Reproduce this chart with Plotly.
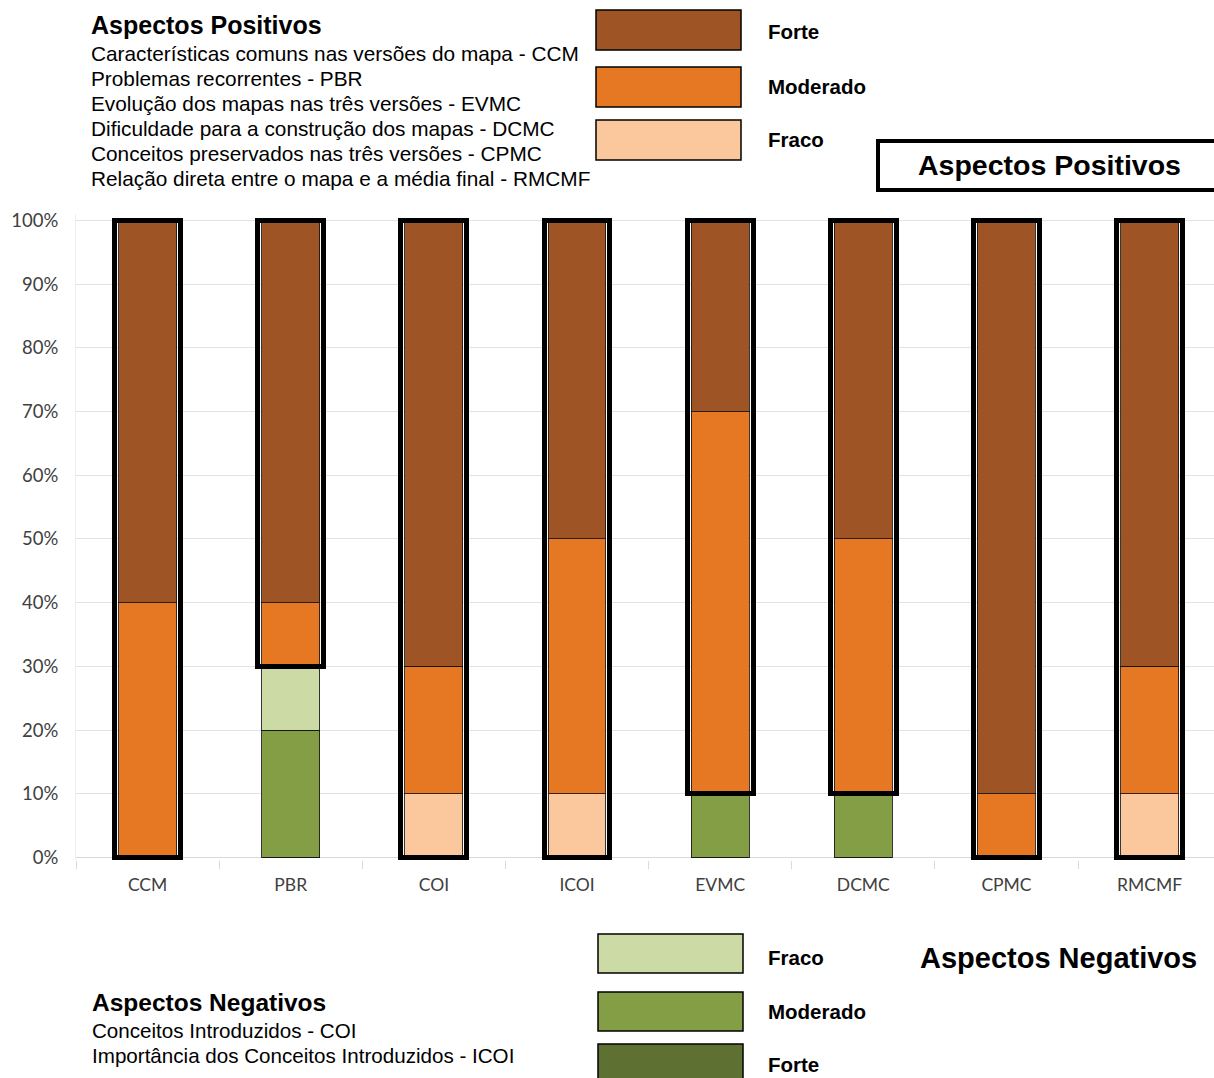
import plotly.graph_objects as go

categories = ["CCM", "PBR", "COI", "ICOI", "EVMC", "DCMC", "CPMC", "RMCMF"]
neg_forte = [0, 0, 0, 0, 0, 0, 0, 0]
neg_moderado = [0, 20, 0, 0, 10, 10, 0, 0]
neg_fraco = [0, 10, 0, 0, 0, 0, 0, 0]
pos_fraco = [0, 0, 10, 10, 0, 0, 0, 10]
pos_moderado = [40, 10, 20, 40, 60, 40, 10, 20]
pos_forte = [60, 60, 70, 50, 30, 50, 90, 70]
y_ticks = [0, 10, 20, 30, 40, 50, 60, 70, 80, 90, 100]
y_tick_labels = [f"{v}%" for v in y_ticks]

C_POS_FORTE = "#9E5424"
C_POS_MOD = "#E67823"
C_POS_FRACO = "#FAC89C"
C_NEG_FRACO = "#CCDBA6"
C_NEG_MOD = "#849E46"
C_NEG_FORTE = "#5E7032"

neg_total = [a + b + c for a, b, c in zip(neg_forte, neg_moderado, neg_fraco)]
pos_total = [a + b + c for a, b, c in zip(pos_fraco, pos_moderado, pos_forte)]

W, H = 1214, 1078
ML, MR, MT, MB = 76, 0, 214, 218
PW = W - ML - MR
PH = H - MT - MB


def px(x):
    return (x - ML) / PW


def py(y):
    return (H - MB - y) / PH


fig = go.Figure()
series = [
    ("Neg Forte", neg_forte, C_NEG_FORTE),
    ("Neg Moderado", neg_moderado, C_NEG_MOD),
    ("Neg Fraco", neg_fraco, C_NEG_FRACO),
    ("Pos Fraco", pos_fraco, C_POS_FRACO),
    ("Pos Moderado", pos_moderado, C_POS_MOD),
    ("Pos Forte", pos_forte, C_POS_FORTE),
]
for name, vals, col in series:
    fig.add_trace(go.Bar(
        x=categories, y=vals, name=name, width=0.405,
        marker=dict(color=col, line=dict(color="rgba(20,20,20,0.85)", width=1)),
        showlegend=False,
    ))

# outline around positive aspects
fig.add_trace(go.Bar(
    x=categories, y=pos_total, base=neg_total, width=0.46,
    xaxis="x2",
    marker=dict(color="rgba(0,0,0,0)", line=dict(color="black", width=5)),
    showlegend=False,
))

fig.update_layout(
    width=W, height=H,
    margin=dict(l=ML, r=MR, t=MT, b=MB),
    barmode="stack",
    plot_bgcolor="white", paper_bgcolor="white",
    xaxis=dict(
        type="category", categoryorder="array", categoryarray=categories,
        range=[-0.5, 7.45], showgrid=False, showline=False,
        ticks="outside", tickson="boundaries", ticklen=8, tickcolor="#D9D9D9",
        ticklabelstandoff=12,
        tickfont=dict(family="Lato", size=17.5, color="#404040"),
    ),
    xaxis2=dict(
        type="category", categoryorder="array", categoryarray=categories,
        range=[-0.5, 7.45], overlaying="x", visible=False,
    ),
    yaxis=dict(
        range=[-0.4, 101], tickvals=y_ticks, ticktext=y_tick_labels,
        showgrid=True, gridcolor="#E3E3E3", gridwidth=1,
        zeroline=True, zerolinecolor="#D9D9D9", zerolinewidth=1,
        showline=True, linecolor="#EEEEEE", linewidth=1,
        ticks="", ticklabelstandoff=13,
        tickfont=dict(family="Lato", size=18.5, color="#404040"),
    ),
)

ann = []
shapes = []


def text(x, y, s, size, bold=False, anchor="left"):
    ann.append(dict(
        xref="paper", yref="paper", x=px(x), y=py(y), text=(f"<b>{s}</b>" if bold else s),
        showarrow=False, xanchor=anchor, yanchor="middle",
        font=dict(family="Liberation Sans, Arial", size=size, color="black"),
    ))


# top-left description
text(89, 25, "Aspectos Positivos", 25, bold=True)
pos_lines = [
    "Características comuns nas versões do mapa - CCM",
    "Problemas recorrentes - PBR",
    "Evolução dos mapas nas três versões - EVMC",
    "Dificuldade para a construção dos mapas - DCMC",
    "Conceitos preservados nas três versões - CPMC",
    "Relação direta entre o mapa e a média final - RMCMF",
]
for i, s in enumerate(pos_lines):
    text(89, 53 + 25.1 * i, s, 20.8)

# bottom-left description
text(90, 1003, "Aspectos Negativos", 24.5, bold=True)
neg_lines = ["Conceitos Introduzidos - COI", "Importância dos Conceitos Introduzidos - ICOI"]
for i, s in enumerate(neg_lines):
    text(90, 1030 + 25.5 * i, s, 20.6)

# positive legend
pos_leg = [("Forte", C_POS_FORTE, 10, 50, 31), ("Moderado", C_POS_MOD, 67, 107, 87),
           ("Fraco", C_POS_FRACO, 120, 160, 139)]
for lab, col, y0, y1, yt in pos_leg:
    shapes.append(dict(type="rect", xref="paper", yref="paper",
                       x0=px(596), x1=px(741), y0=py(y1), y1=py(y0),
                       fillcolor=col, line=dict(color="black", width=1.5)))
    text(766, yt, lab, 20.5, bold=True)

neg_leg = [("Fraco", C_NEG_FRACO, 934, 973, 957), ("Moderado", C_NEG_MOD, 992, 1031, 1011),
           ("Forte", C_NEG_FORTE, 1044, 1084, 1064)]
for lab, col, y0, y1, yt in neg_leg:
    shapes.append(dict(type="rect", xref="paper", yref="paper",
                       x0=px(598), x1=px(743), y0=py(y1), y1=py(y0),
                       fillcolor=col, line=dict(color="black", width=1.5)))
    text(766, yt, lab, 20.5, bold=True)

# boxed title (right side runs off the page, so no right border)
bx0, bx1, by0, by1 = px(878), px(1240), py(190), py(141)
shapes.append(dict(type="path", xref="paper", yref="paper",
                   path=f"M {bx1} {by1} L {bx0} {by1} L {bx0} {by0} L {bx1} {by0}",
                   fillcolor="rgba(0,0,0,0)", line=dict(color="black", width=4)))
text(1049, 165, "Aspectos Positivos", 28.5, bold=True, anchor="center")
text(1058, 958, "Aspectos Negativos", 29, bold=True, anchor="center")

fig.update_layout(annotations=ann, shapes=shapes)
fig.write_html(
    "out.html",
    config={"displayModeBar": False},
    post_script="document.body.style.margin='0';document.documentElement.style.overflow='hidden';",
)
